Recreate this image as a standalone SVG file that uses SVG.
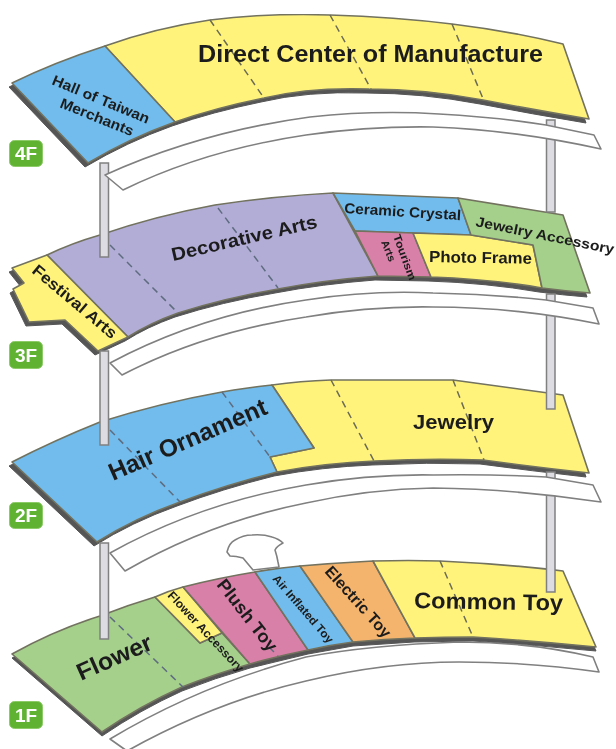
<svg xmlns="http://www.w3.org/2000/svg" width="616" height="749" viewBox="0 0 616 749">
<style>
.o{stroke:#72725f;stroke-width:1.6;stroke-linejoin:round}
.y{fill:#fff37c}.b{fill:#71bcec}.p{fill:#b2add6}.g{fill:#a5d08c}.k{fill:#d880a8}.r{fill:#f4b46e}
.s{fill:#555;stroke:#555;stroke-width:1}
.d{fill:none;stroke:#6c6c55;stroke-width:1.5;stroke-dasharray:7 5}
.dd{stroke:#5f6c80}
.c{fill:#dcdce2;stroke:#808080;stroke-width:1.5}
.w{fill:#fff;stroke:#808080;stroke-width:1.6;stroke-linejoin:round}
.t{font-family:"Liberation Sans",Arial,sans-serif;font-weight:bold;fill:#1c1c1c}
.bd{fill:#5fb233;stroke:#8ccb68;stroke-width:1}
.bt{font-family:"Liberation Sans",Arial,sans-serif;font-weight:bold;fill:#fff;font-size:19px;text-anchor:middle}
</style>
<defs><filter id="soft" x="0" y="0" width="100%" height="100%"><feGaussianBlur stdDeviation="0.45"/></filter></defs>
<rect width="616" height="749" fill="#fff"/>
<g filter="url(#soft)">
<g id="annex"><path class="w" d="M227 552Q229 543 235 540Q243 535 252 535Q263 534 272 537Q279 539 283 543Q277 546 275 550Q277 556 278 562L279 567L253 570L243 558Q236 556 230 556Z"/></g>

<g id="floor-4f">
<path class="s" transform="translate(-3,4)" d="M12 83Q55 62 105 46L563 44L589 119Q535 110 483 100Q425 89 369 89Q310 87 264 98Q215 108 175 122Q130 138 88 163Z"/>
<path class="o y" d="M105 46Q155 28 210 20Q270 13 330 15Q395 17 452 24Q510 31 563 44L589 119Q535 110 483 100Q425 89 369 89Q310 87 264 98Q215 108 175 122Z"/>
<path class="o b" d="M12 83Q55 62 105 46L175 122Q130 138 88 163Z"/>
<path class="d" d="M210 20L264 98M330 15L371 89M452 24L484 101"/>
</g>

<g id="floor-3f">
<path class="s" transform="translate(-3,4)" d="M12 268L47 255Q100 236 215 205L333 193L458 198L563 215L590 293Q565 291 542 288Q490 279 431 277L378 276Q325 280 278 289Q225 298 178 313Q150 323 128 337L98 351L65 320L29 322L13 289L24 283Z"/>
<path class="o p" d="M47 255Q72 243 100 235Q155 216 215 205Q275 196 333 193L378 276Q325 280 278 289Q225 298 178 313Q150 323 128 337Z"/>
<path class="o y" d="M12 268L47 255L128 337L98 351L65 320L29 322L13 289L24 283Z"/>
<path class="o b" d="M333 193L458 198L471 235L355 231Z"/>
<path class="o k" d="M355 231L413 233L431 277L378 276Z"/>
<path class="o y" d="M413 233L471 235L533 245L542 288Q490 279 431 277Z"/>
<path class="o g" d="M458 198L563 215L590 293Q565 291 542 288L533 245L471 235Z"/>
<path class="d dd" d="M110 245L178 313M218 208L278 288"/>
</g>

<g id="floor-2f">
<path class="s" transform="translate(-3,4)" d="M12 462Q55 440 100 422L222 392L272 385L331 380L453 380L563 395L589 473Q535 467 483 460Q430 458 375 461Q325 463 277 472Q225 485 180 502Q135 518 97 542Z"/>
<path class="o y" d="M272 385Q300 381 331 380L453 380Q510 388 563 395L589 473Q535 467 483 460Q430 458 375 461Q325 463 277 472L270 457L314 448Z"/>
<path class="o b" d="M12 462Q55 440 100 422Q160 403 222 392Q245 388 272 385L314 448L270 457L277 472Q225 485 180 502Q135 518 97 542Z"/>
<path class="d dd" d="M110 430L180 502M222 392L270 457"/>
<path class="d" d="M331 380L374 461M453 380L484 460"/>
</g>

<g id="floor-1f">
<path class="s" transform="translate(0,4)" d="M12 654Q55 630 100 616L155 597L255 573L373 561L440 561L563 571L596 647Q535 641 473 637L414 638L353 642L308 650L250 664Q215 674 182 687Q140 706 102 732Z"/>
<path class="o g" d="M12 654Q55 630 100 616Q128 605 155 597L200 643L222 633L250 664Q215 674 182 687Q140 706 102 732Z"/>
<path class="o y" d="M155 597Q168 591 183 587L222 633L200 643Z"/>
<path class="o k" d="M183 587Q218 578 255 572L308 650Q278 656 250 664Z"/>
<path class="o b" d="M255 572Q278 568 300 566L353 642Q330 645 308 650Z"/>
<path class="o r" d="M300 566Q335 563 373 561L415 638Q385 639 353 642Z"/>
<path class="o y" d="M373 561Q410 560 440 561Q505 564 563 571L596 647Q535 641 473 637Q445 637 415 638Z"/>
<path class="d dd" d="M110 617L183 687M269 647L278 656"/>
<path class="d" d="M440 561L473 637"/>
</g>

<g id="connectors">
<rect class="c" x="100" y="163" width="8.5" height="94"/>
<rect class="c" x="100" y="351" width="8.5" height="94"/>
<rect class="c" x="100" y="543" width="8.5" height="96"/>
<rect class="c" x="546.5" y="120" width="8.5" height="92"/>
<rect class="c" x="546.5" y="294" width="8.5" height="115"/>
<rect class="c" x="546.5" y="472" width="8.5" height="120"/>
</g>
<g id="ribbon-4f"><path class="w" d="M105 175Q200 132 310 117Q375 110 439 114Q495 117 546 125L594 135L601 149Q515 130 433 127Q370 126 306 135Q205 150 123 190Z"/></g>
<g id="ribbon-3f"><path class="w" d="M110 363Q200 315 306 300Q370 290 433 293Q490 294 546 300L593 308L599 324Q515 307 433 307Q370 306 306 317Q205 332 122 375Z"/></g>
<g id="ribbon-2f"><path class="w" d="M110 553Q200 503 306 485Q370 474 433 475Q490 474 546 477L593 485L601 502Q515 489 433 488Q370 489 306 503Q210 522 125 571Z"/></g>
<g id="ribbon-1f"><path class="w" d="M110 739Q200 685 306 657Q370 645 459 642Q530 642 593 657L599 672Q530 662 459 662Q385 662 306 681Q215 702 127 751Z"/></g>

<g id="labels">
<text class="t" font-size="14.5" textLength="104" lengthAdjust="spacingAndGlyphs" transform="translate(51,84) rotate(22.5)">Hall of Taiwan</text>
<text class="t" font-size="14.5" textLength="78" lengthAdjust="spacingAndGlyphs" transform="translate(59,107) rotate(22)">Merchants</text>
<text class="t" font-size="23" textLength="345" lengthAdjust="spacingAndGlyphs" x="198" y="62">Direct Center of Manufacture</text>
<text class="t" font-size="16" textLength="105" lengthAdjust="spacingAndGlyphs" transform="translate(31,272) rotate(40)">Festival Arts</text>
<text class="t" font-size="18.5" textLength="149" lengthAdjust="spacingAndGlyphs" transform="translate(173,261) rotate(-13)">Decorative Arts</text>
<text class="t" font-size="14.5" textLength="117" lengthAdjust="spacingAndGlyphs" transform="translate(344,213) rotate(3.5)">Ceramic Crystal</text>
<text class="t" font-size="14" textLength="141" lengthAdjust="spacingAndGlyphs" transform="translate(475,226) rotate(11.5)">Jewelry Accessory</text>
<text class="t" font-size="11" textLength="48" lengthAdjust="spacingAndGlyphs" transform="translate(393,236) rotate(70)">Tourism</text>
<text class="t" font-size="10.5" textLength="22" lengthAdjust="spacingAndGlyphs" transform="translate(381,242) rotate(68)">Arts</text>
<text class="t" font-size="16" textLength="103" lengthAdjust="spacingAndGlyphs" transform="translate(429,262) rotate(1)">Photo Frame</text>
<text class="t" font-size="24.5" textLength="170" lengthAdjust="spacingAndGlyphs" transform="translate(113,481) rotate(-23.5)">Hair Ornament</text>
<text class="t" font-size="20" textLength="81" lengthAdjust="spacingAndGlyphs" x="413" y="429">Jewelry</text>
<text class="t" font-size="24" textLength="80" lengthAdjust="spacingAndGlyphs" transform="translate(81,681) rotate(-24)">Flower</text>
<text class="t" font-size="12" textLength="105" lengthAdjust="spacingAndGlyphs" transform="translate(167,596) rotate(47)">Flower Accessory</text>
<text class="t" font-size="18" textLength="86" lengthAdjust="spacingAndGlyphs" transform="translate(216,585) rotate(52)">Plush Toy</text>
<text class="t" font-size="11.5" textLength="86" lengthAdjust="spacingAndGlyphs" transform="translate(272,579) rotate(49)">Air Inflated Toy</text>
<text class="t" font-size="16" textLength="90" lengthAdjust="spacingAndGlyphs" transform="translate(324,572) rotate(48)">Electric Toy</text>
<text class="t" font-size="22.5" textLength="149" lengthAdjust="spacingAndGlyphs" transform="translate(414,608) rotate(1)">Common Toy</text>
</g>

<g id="badge-4f"><rect class="bd" x="9.5" y="140.5" width="33" height="26" rx="5"/><text class="bt" x="26" y="160">4F</text></g>
<g id="badge-3f"><rect class="bd" x="9.5" y="341.5" width="33" height="27" rx="5"/><text class="bt" x="26" y="362">3F</text></g>
<g id="badge-2f"><rect class="bd" x="9.5" y="502.5" width="33" height="26" rx="5"/><text class="bt" x="26" y="522">2F</text></g>
<g id="badge-1f"><rect class="bd" x="9.5" y="701.5" width="33" height="27" rx="5"/><text class="bt" x="26" y="722">1F</text></g>
</g>
</svg>
